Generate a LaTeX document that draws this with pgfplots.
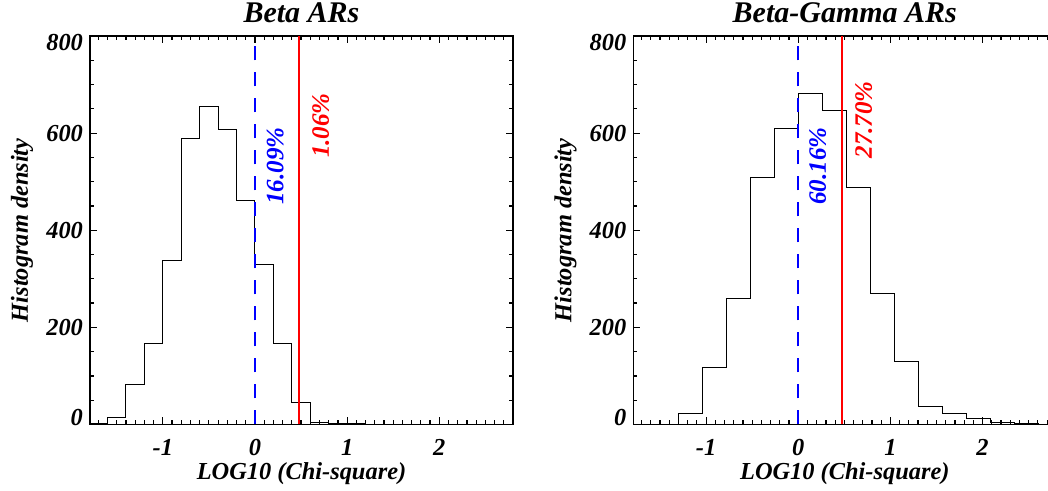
\documentclass[border=0pt]{standalone}
\usepackage{fontspec}
\setmainfont{Liberation Serif}
\usepackage{pgfplots}
\pgfplotsset{compat=1.18}
\newcommand\lbl{\fontsize{12.2}{14}\selectfont\bfseries\itshape}
\newcommand\ttl{\fontsize{15}{18}\selectfont\bfseries\itshape}
\newcommand\pct{\fontsize{12.5}{15}\selectfont\bfseries\itshape}
\definecolor{idlblue}{rgb}{0,0,1}
\definecolor{idlred}{rgb}{1,0,0}
\pgfplotsset{
  chist/.style={
    scale only axis, width=211.5pt, height=194.25pt,
    anchor=south west,
    xmin=-1.79, xmax=2.8, ymin=0, ymax=800,
    xtick={-1,0,1,2}, xticklabels={-1,0,1,2},
    minor xtick={-1.7,-1.6,...,2.75},
    ytick={0,200,400,600,800},
    yticklabels={\smash{\raisebox{-0.6pt}{0}},200,400,600,\smash{\raisebox{-7.35pt}{800}}},
    minor ytick={50,100,...,750},
    tick align=inside,
    major tick length=3.5pt, minor tick length=2pt,
    every tick/.style={black, line width=0.6pt},
    axis line style={line width=0.7pt},
    tick label style={font=\lbl},
    yticklabel style={anchor=east},
    xticklabel style={anchor=base, yshift=-15.75pt},
    label style={font=\lbl},
    xlabel={LOG10 (Chi-square)},
    ylabel={Histogram density},
    xlabel style={at={(axis description cs:0.5,-0.141)}, anchor=base},
    ylabel style={at={(axis description cs:-0.1466,0.5)}, anchor=base},
    every axis title shift=0pt,
    title style={font=\ttl, at={(axis description cs:0.5,1.036)}, anchor=base},
  },
  hist/.style={const plot, black, line width=0.5pt, mark=none},
  bline/.style={idlblue, line width=1pt, dash pattern=on 7pt off 6pt},
  rline/.style={idlred, line width=1pt},
}
\begin{document}
\begin{tikzpicture}
\begin{axis}[chist, at={(45pt,33.25pt)}, title={Beta ARs}]
\addplot[hist] coordinates {
(-2.0,3) (-1.6,15) (-1.4,82) (-1.2,167) (-1.0,337) (-0.8,588) (-0.6,654)
(-0.4,608) (-0.2,462) (0,330) (0.2,167) (0.4,45) (0.6,5) (0.8,2) (1.0,2)
(1.2,1) (1.4,1) (1.6,1) (1.8,0) (3.0,0)};
\addplot[bline] coordinates {(0,0) (0,800)};
\addplot[rline] coordinates {(0.477,0) (0.477,800)};
\node[rotate=90, anchor=west, inner sep=0pt, text=idlblue, font=\pct] at (axis cs:0.221,452) {16.09\%};
\node[rotate=90, anchor=west, inner sep=0pt, text=idlred, font=\pct] at (axis cs:0.715,548) {1.06\%};
\end{axis}
\begin{axis}[chist, at={(316.65pt,33.25pt)}, title={Beta-Gamma ARs}]
\addplot[hist] coordinates {
(-1.827,0) (-1.566,1) (-1.305,22.6) (-1.044,116.7) (-0.783,258.8) (-0.522,508.6)
(-0.261,609) (0,681.6) (0.261,646.6) (0.522,488.8) (0.783,269) (1.044,129)
(1.305,37) (1.566,22.5) (1.827,12.4) (2.088,3.5) (2.349,2) (2.610,1) (2.871,1)};
\addplot[bline] coordinates {(0,0) (0,800)};
\addplot[rline] coordinates {(0.477,0) (0.477,800)};
\node[rotate=90, anchor=west, inner sep=0pt, text=idlblue, font=\pct] at (axis cs:0.21,452) {60.16\%};
\node[rotate=90, anchor=west, inner sep=0pt, text=idlred, font=\pct] at (axis cs:0.71,547) {27.70\%};
\end{axis}
\pgfresetboundingbox
\path[use as bounding box] (0,0) rectangle (524pt,245.5pt);
\end{tikzpicture}
\end{document}
